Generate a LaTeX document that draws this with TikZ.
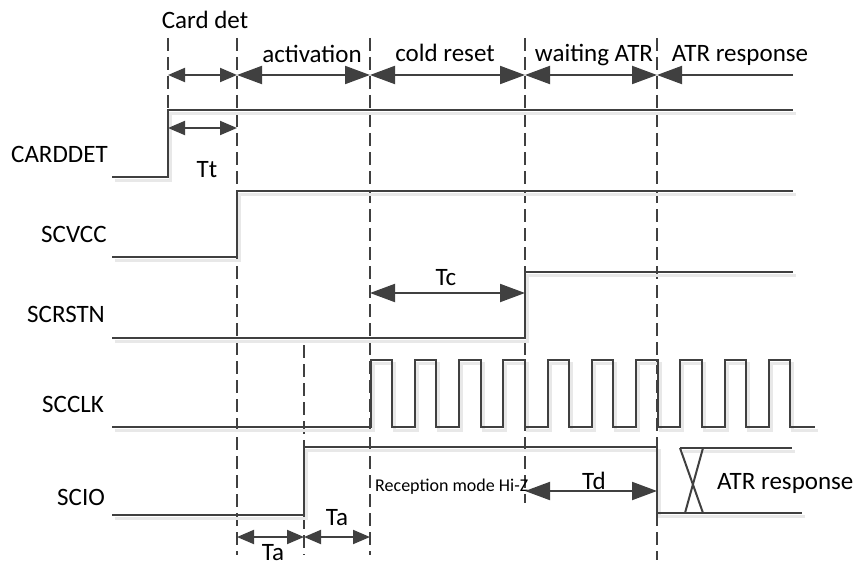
\documentclass[tikz,border=0pt]{standalone}
\usepackage{fontspec}
\setmainfont{Carlito}
\usetikzlibrary{arrows.meta}
\definecolor{lc}{HTML}{404040}
\definecolor{shc}{HTML}{E8E8E8}
\begin{document}
\begin{tikzpicture}[x=1pt,y=-1pt,
  sig/.style={draw=lc, line width=2pt, line join=miter,
    preaction={draw=shc, line width=3pt, transform canvas={shift={(2.5pt,-3.5pt)}}}},
  vdash/.style={draw=lc, line width=2pt, dash pattern=on 13pt off 6pt},
  bigarr/.style={draw=lc, fill=lc, line width=2pt, {Triangle[length=25pt,width=18pt]}-{Triangle[length=25pt,width=18pt]}},
  smallarr/.style={draw=lc, fill=lc, line width=2pt, {Triangle[length=17pt,width=14pt]}-{Triangle[length=17pt,width=14pt]}},
  lbl/.style={font=\fontsize{25}{29}\selectfont, text=black, inner sep=0pt, anchor=base},
  sig lbl/.style={lbl, anchor=base west},
  small lbl/.style={font=\fontsize{18}{21}\selectfont, text=black, inner sep=0pt, anchor=base west}
]
\useasboundingbox (0,0) rectangle (859,567);

% key coordinates
\coordinate (d1t) at (168,38);  \coordinate (d1b) at (168,110);
\coordinate (d2t) at (237,38);  \coordinate (d2b) at (237,555);
\coordinate (d3t) at (304,345); \coordinate (d3b) at (304,555);
\coordinate (d4t) at (370,38);  \coordinate (d4b) at (370,555);
\coordinate (d5t) at (525,38);  \coordinate (d5b) at (525,503);
\coordinate (d6t) at (657,38);  \coordinate (d6b) at (657,560);

% dashed verticals
\draw[vdash] (d1t) -- (d1b);
\draw[vdash] (d2t) -- (d2b);
\draw[vdash] (d3t) -- (d3b);
\draw[vdash] (d4t) -- (d4b);
\draw[vdash] (d5t) -- (d5b);
\draw[vdash] (d6t) -- (d6b);

% top phase arrows
\coordinate (p1) at (168,75); \coordinate (p2) at (237,75);
\coordinate (p3) at (370,75); \coordinate (p4) at (525,75);
\coordinate (p5) at (657,75); \coordinate (p6) at (793,75);
\draw[smallarr] (p1) -- (p2);
\draw[bigarr] (p2) -- (p3);
\draw[bigarr] (p3) -- (p4);
\draw[bigarr] (p4) -- (p5);
\draw[draw=lc, fill=lc, line width=2pt, -{Triangle[length=25pt,width=18pt]}] (p6) -- (p5);

\node[lbl] (tcard) at (205,29) {Card det};
\node[lbl] (tact) at (312,63) {activation};
\node[lbl] (tcold) at (445,62) {cold reset};
\node[lbl] (twait) at (594,62) {waiting ATR};
\node[lbl] (tatr) at (740,62) {ATR response};

% signal names
\node[sig lbl] (lcard) at (11,162) {CARDDET};
\node[sig lbl] (lvcc) at (41,242) {SCVCC};
\node[sig lbl] (lrst) at (27,322) {SCRSTN};
\node[sig lbl] (lclk) at (42,412) {SCCLK};
\node[sig lbl] (lio) at (57,505) {SCIO};

% CARDDET
\draw[sig] (112,177) -- (168,177) -- (168,110) -- (793,110);
% Tt
\coordinate (t1) at (168,128); \coordinate (t2) at (237,128);
\draw[smallarr] (t1) -- (t2);
\node[lbl] (ltt) at (207,177) {Tt};

% SCVCC
\draw[sig] (112,257) -- (237,257) -- (237,191) -- (793,191);

% Tc
\coordinate (c1) at (370,293); \coordinate (c2) at (525,293);
\draw[bigarr] (c1) -- (c2);
\node[lbl] (ltc) at (446,285) {Tc};

% SCRSTN
\draw[sig] (112,338) -- (525,338) -- (525,272) -- (793,272);

% SCCLK
\draw[sig] (112,427)
  foreach \i in {0,...,9}{
    -- ({370.5+44.25*\i},427) -- ({370.5+44.25*\i},360)
    -- ({392.2+44.25*\i},360) -- ({392.2+44.25*\i},427)}
  -- (815,427);

% SCIO
\draw[sig] (112,515) -- (304,515) -- (304,447) -- (657,447) -- (657,513) -- (802,513);
\draw[sig] (680,448) -- (792,448);
\draw[draw=lc, line width=2pt] (680,448) -- (703,513);
\draw[draw=lc, line width=2pt] (703,448) -- (685,513);
\node[lbl, anchor=base west] (latr) at (717,489) {ATR response};

\node[small lbl] (lrec) at (375,491) {Reception mode Hi-Z};

% Td
\coordinate (e1) at (525,491); \coordinate (e2) at (657,491);
\draw[bigarr] (e1) -- (e2);
\node[lbl] (ltd) at (594,489) {Td};

% Ta
\coordinate (a1) at (237,537); \coordinate (a2) at (304,537); \coordinate (a3) at (370,537);
\draw[smallarr] (a1) -- (a2);
\draw[smallarr] (a2) -- (a3);
\node[lbl] (lta1) at (273,560) {Ta};
\node[lbl] (lta2) at (337,525) {Ta};
\end{tikzpicture}
\end{document}
